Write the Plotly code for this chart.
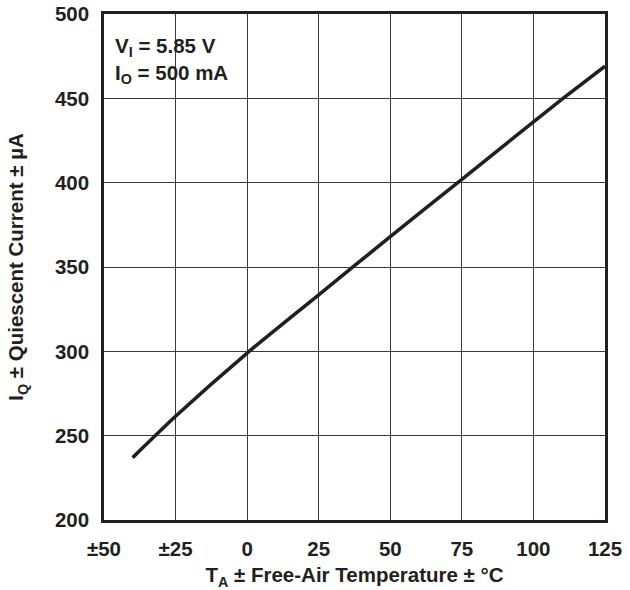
import plotly.graph_objects as go

temp_c = [-40, -25, 0, 25, 50, 75, 100, 110, 125]
iq_ua = [237, 261.5, 299, 333.5, 368, 402, 436, 449.5, 469]

x_tickvals = [-50, -25, 0, 25, 50, 75, 100, 125]
x_ticktext = ["±50", "±25", "0", "25", "50", "75", "100", "125"]
y_tickvals = [200, 250, 300, 350, 400, 450, 500]
y_ticktext = ["200", "250", "300", "350", "400", "450", "500"]

FONT = "Liberation Sans, Arial, Helvetica, sans-serif"
INK = "#231f20"
FS = 20.5


def f(size=FS):
    return dict(family=FONT, size=size, color=INK, weight="bold")


fig = go.Figure()
fig.add_trace(go.Scatter(
    x=temp_c, y=iq_ua, mode="lines",
    line=dict(color=INK, width=3.6, shape="spline", smoothing=0.6),
    showlegend=False, hoverinfo="skip",
))

axis_common = dict(
    showgrid=True, gridcolor="#3a3a3a", gridwidth=1.4,
    showline=True, linecolor=INK, linewidth=2.6, mirror=True,
    ticks="", zeroline=False, automargin=False, tickfont=f(),
)

fig.update_layout(
    width=630, height=590,
    margin=dict(l=104, r=25, t=14, b=70),
    paper_bgcolor="white", plot_bgcolor="white",
    font=f(),
    xaxis=dict(
        range=[-50, 125], tickvals=x_tickvals, ticktext=x_ticktext,
        ticklabelstandoff=9,
        title=dict(text="T<sub>A</sub> ± Free-Air Temperature ± °C",
                   font=f(), standoff=9),
        **axis_common,
    ),
    yaxis=dict(
        range=[200, 500], tickvals=y_tickvals, ticktext=y_ticktext,
        ticklabelstandoff=8,
        title=dict(text="I<sub>Q</sub> ± Quiescent Current ± µA",
                   font=f(), standoff=26),
        **axis_common,
    ),
    annotations=[
        dict(text="V<sub>I</sub> = 5.85 V", xref="paper", yref="paper",
             x=0.017, y=0.935, xanchor="left", yanchor="middle", showarrow=False,
             font=f()),
        dict(text="I<sub>O</sub> = 500 mA", xref="paper", yref="paper",
             x=0.017, y=0.882, xanchor="left", yanchor="middle", showarrow=False,
             font=f()),
    ],
)

# remove the browser's default 8px body margin so the figure fills the window
fig.write_html("out.html", config={"displayModeBar": False},
               post_script="document.body.style.margin='0';")
